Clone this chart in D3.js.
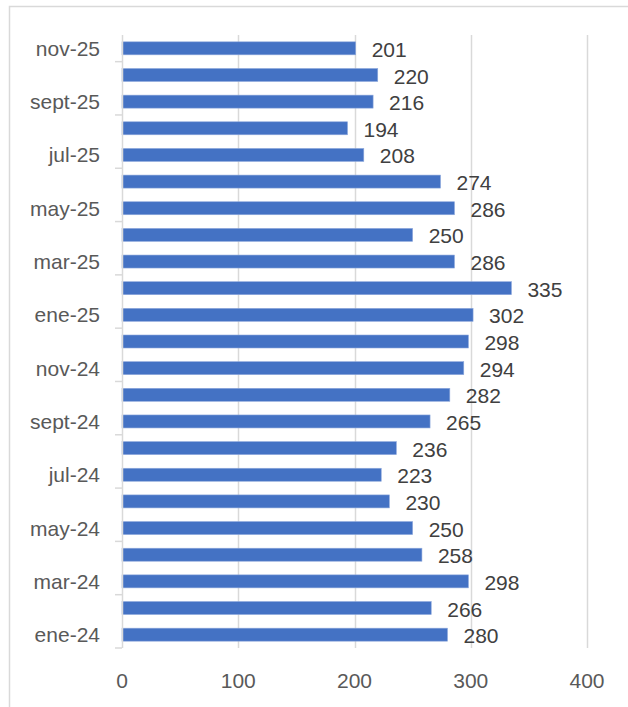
<!DOCTYPE html>
<html>
<head>
<meta charset="utf-8">
<title>Meses</title>
<style>
  body { margin: 0; background: #fff; }
  svg { display: block; font-family: "Liberation Sans", Arial, sans-serif; }
</style>
</head>
<body>
<div id="chart"></div>
<script src="https://cdn.jsdelivr.net/npm/d3@7"></script>
<script>
// months from bottom (ene-24) to top (nov-25)
var months = ["ene-24", "feb-24", "mar-24", "abr-24", "may-24", "jun-24", "jul-24", "ago-24",
              "sept-24", "oct-24", "nov-24", "dic-24", "ene-25", "feb-25", "mar-25", "abr-25",
              "may-25", "jun-25", "jul-25", "ago-25", "sept-25", "oct-25", "nov-25"];
var values = [280, 266, 298, 258, 250, 230, 223, 236,
              265, 282, 294, 298, 302, 335, 286, 250,
              286, 274, 208, 194, 216, 220, 201];
var xTicks = [0, 100, 200, 300, 400];

var width = 628, height = 707;
var plotLeft = 122, plotRight = 587, plotTop = 35, plotBottom = 648;

var svg = d3.select("#chart").append("svg")
    .attr("width", width)
    .attr("height", height);

// chart frame
svg.append("rect")
    .attr("x", 9.5).attr("y", 6.5)
    .attr("width", 700).attr("height", 720)
    .attr("fill", "none")
    .attr("stroke", "#d9d9d9")
    .attr("stroke-width", 1.5);

var x = d3.scaleLinear().domain([0, 400]).range([plotLeft, plotRight]);
var yBand = d3.scaleBand().domain(months.slice().reverse()).range([plotTop, plotBottom]);

// gridlines
svg.append("g").selectAll("line")
    .data(xTicks.slice(1))
    .enter().append("line")
    .attr("x1", function(d) { return Math.round(x(d)) + 0.5; })
    .attr("x2", function(d) { return Math.round(x(d)) + 0.5; })
    .attr("y1", plotTop).attr("y2", plotBottom)
    .attr("stroke", "#d9d9d9")
    .attr("stroke-width", 1.5);

// x tick labels
svg.append("g").selectAll("text")
    .data(xTicks)
    .enter().append("text")
    .attr("x", function(d) { return x(d); })
    .attr("y", 688)
    .attr("text-anchor", "middle")
    .attr("font-size", 21)
    .attr("fill", "#595959")
    .text(function(d) { return d; });

// bars
svg.append("g").selectAll("rect")
    .data(values)
    .enter().append("rect")
    .attr("x", x(0))
    .attr("y", function(d, i) { return yBand(months[i]) + yBand.bandwidth() / 2 - 6.5; })
    .attr("width", function(d) { return x(d) - x(0); })
    .attr("height", 13)
    .attr("fill", "#4472c4")
    .attr("stroke", "#8fa9dc")
    .attr("stroke-width", 0.6);

// value labels
svg.append("g").selectAll("text")
    .data(values)
    .enter().append("text")
    .attr("x", function(d) { return x(d) + 16; })
    .attr("y", function(d, i) { return yBand(months[i]) + yBand.bandwidth() / 2 + 1; })
    .attr("dy", "0.36em")
    .attr("font-size", 21)
    .attr("fill", "#404040")
    .text(function(d) { return d; });

// vertical axis line
svg.append("line")
    .attr("x1", plotLeft + 0.5).attr("x2", plotLeft + 0.5)
    .attr("y1", plotTop).attr("y2", plotBottom)
    .attr("stroke", "#d9d9d9")
    .attr("stroke-width", 1.5);

// tick marks every two months, counted from the bottom
var tickIdx = d3.range(0, months.length, 2);
svg.append("g").selectAll("line")
    .data(tickIdx)
    .enter().append("line")
    .attr("x1", plotLeft - 7).attr("x2", plotLeft)
    .attr("y1", function(i) { return yBand(months[i]) + yBand.bandwidth(); })
    .attr("y2", function(i) { return yBand(months[i]) + yBand.bandwidth(); })
    .attr("stroke", "#d9d9d9")
    .attr("stroke-width", 1.5);

// category labels, every other month
svg.append("g").selectAll("text")
    .data(tickIdx)
    .enter().append("text")
    .attr("x", 100)
    .attr("y", function(i) { return yBand(months[i]) + yBand.bandwidth() / 2; })
    .attr("dy", "0.36em")
    .attr("text-anchor", "end")
    .attr("font-size", 21)
    .attr("fill", "#595959")
    .text(function(i) { return months[i]; });
</script>
</body>
</html>
